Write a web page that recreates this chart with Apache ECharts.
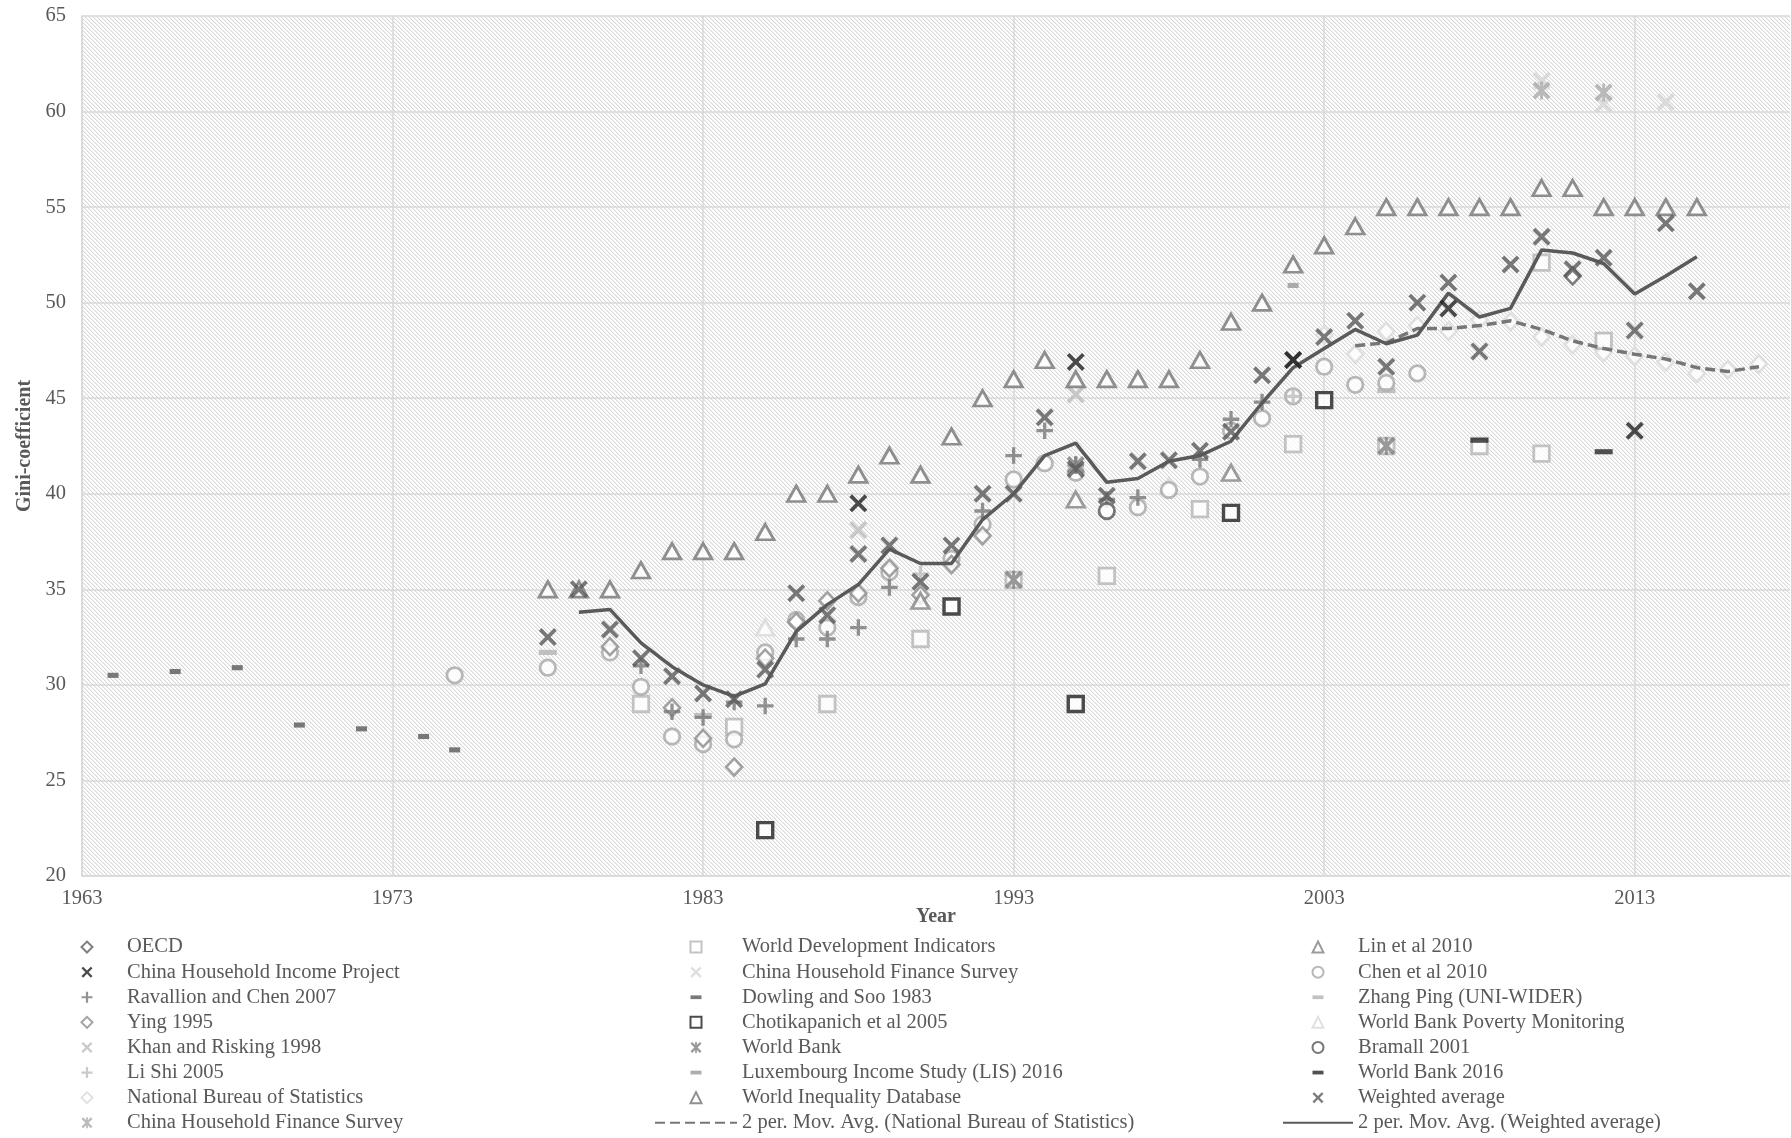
<!DOCTYPE html>
<html>
<head>
<meta charset="utf-8">
<title>Gini-coefficient of China</title>
<script src="https://cdn.jsdelivr.net/npm/echarts@6/dist/echarts.min.js"></script>
<style>
  html, body { margin: 0; padding: 0; background: #fff; }
  #chart { width: 1791px; height: 1138px; }
</style>
</head>
<body>
<div id="chart"></div>
<script>
// ---- data: [year, Gini] pairs per source ----
const oecd = [[2011, 51.4]];
const chip = [[1988, 39.5], [1995, 46.9], [2002, 47.0], [2007, 49.7], [2013, 43.3]];
const ravallionChen = [[1981, 31.0], [1982, 28.6], [1983, 28.3], [1984, 29.1], [1985, 28.9], [1986, 32.4], [1987, 32.4],
  [1988, 33.0], [1989, 35.1], [1992, 39.1], [1993, 42.0], [1994, 43.3], [1995, 41.5], [1996, 39.7], [1997, 39.8],
  [1999, 41.8], [2000, 43.9], [2001, 44.8]];
const ying = [[1980, 32.0], [1982, 28.8], [1983, 27.2], [1984, 25.7], [1985, 31.4], [1986, 33.3], [1987, 34.4],
  [1988, 34.8], [1989, 36.1], [1990, 34.7], [1991, 36.3], [1992, 37.8]];
const khanRisking = [[1988, 38.1], [1995, 45.2]];
const liShi = [[1990, 35.8], [2002, 45.1]];
const nbs = [[2003, 48.3], [2004, 47.3], [2005, 48.5], [2006, 48.8], [2007, 48.5], [2008, 49.1], [2009, 49.0],
  [2010, 48.2], [2011, 47.8], [2012, 47.4], [2013, 47.2], [2014, 46.9], [2015, 46.3], [2016, 46.5], [2017, 46.8]];
const chfsA = [[2010, 61.1], [2012, 61.0]];
const wdi = [[1981, 29.0], [1984, 27.8], [1987, 29.0], [1990, 32.4], [1993, 35.5], [1996, 35.7], [1999, 39.2],
  [2002, 42.6], [2005, 42.5], [2008, 42.5], [2010, 42.1], [2010, 52.1], [2012, 48.0]];
const chfsB = [[2010, 61.6], [2012, 60.4], [2014, 60.5]];
const dowlingSoo = [[1964, 30.5], [1966, 30.7], [1968, 30.9], [1970, 27.9], [1972, 27.7], [1974, 27.3], [1975, 26.6]];
const chotikapanich = [[1985, 22.4], [1991, 34.1], [1995, 29.0], [2000, 39.0], [2003, 44.9]];
const worldBank = [[1993, 35.5], [1995, 41.5], [2005, 42.5]];
const lis = [[2002, 50.9]];
const wid = [[1978, 35], [1979, 35], [1980, 35], [1981, 36], [1982, 37], [1983, 37], [1984, 37], [1985, 38],
  [1986, 40], [1987, 40], [1988, 41], [1989, 42], [1990, 41], [1991, 43], [1992, 45], [1993, 46], [1994, 47],
  [1995, 46], [1996, 46], [1997, 46], [1998, 46], [1999, 47], [2000, 49], [2001, 50], [2002, 52], [2003, 53],
  [2004, 54], [2005, 55], [2006, 55], [2007, 55], [2008, 55], [2009, 55], [2010, 56], [2011, 56], [2012, 55],
  [2013, 55], [2014, 55], [2015, 55]];
const nbsMovAvg = [[2004, 47.75], [2005, 47.9], [2006, 48.65], [2007, 48.65], [2008, 48.8], [2009, 49.05],
  [2010, 48.6], [2011, 48.0], [2012, 47.6], [2013, 47.3], [2014, 47.05], [2015, 46.6], [2016, 46.4], [2017, 46.65]];
const linEtAl = [[1990, 34.4], [1995, 39.7], [2000, 41.1]];
const chenEtAl = [[1975, 30.5], [1978, 30.9], [1980, 31.7], [1981, 29.9], [1982, 27.3], [1983, 26.9], [1984, 27.15],
  [1985, 31.7], [1986, 33.4], [1987, 33.0], [1988, 34.6], [1989, 35.9], [1991, 36.6], [1992, 38.4], [1993, 40.75],
  [1994, 41.6], [1995, 41.1], [1997, 39.3], [1998, 40.2], [1999, 40.9], [2000, 43.3], [2001, 43.95], [2002, 45.1],
  [2003, 46.65], [2004, 45.7], [2005, 45.8], [2006, 46.3]];
const zhangPing = [[1978, 31.7], [1983, 28.4], [2005, 45.4]];
const wbPoverty = [[1985, 33.0], [1998, 40.4]];
const bramall = [[1996, 39.1]];
const wb2016 = [[2008, 42.8], [2012, 42.2]];
const weighted = [[1978, 32.5], [1979, 35.0], [1980, 32.9], [1981, 31.4], [1982, 30.45], [1983, 29.55],
  [1984, 29.25], [1985, 30.8], [1986, 34.8], [1987, 33.65], [1988, 36.85], [1989, 37.3], [1990, 35.4],
  [1991, 37.3], [1992, 40.0], [1993, 40.0], [1994, 44.0], [1995, 41.3], [1996, 39.9], [1997, 41.7],
  [1998, 41.75], [1999, 42.25], [2000, 43.25], [2001, 46.2], [2002, 47.0], [2003, 48.2], [2004, 49.05],
  [2005, 46.65], [2006, 50.0], [2007, 51.05], [2008, 47.45], [2009, 52.0], [2010, 53.45], [2011, 51.75],
  [2012, 52.35], [2013, 48.55], [2014, 54.15], [2015, 50.6]];
const weightedMovAvg = [[1979, 33.8], [1980, 33.95], [1981, 32.2], [1982, 30.95], [1983, 30.0], [1984, 29.4],
  [1985, 30.05], [1986, 32.8], [1987, 34.2], [1988, 35.25], [1989, 37.1], [1990, 36.35], [1991, 36.35],
  [1992, 38.65], [1993, 40.0], [1994, 42.0], [1995, 42.65], [1996, 40.6], [1997, 40.8], [1998, 41.7],
  [1999, 42.0], [2000, 42.75], [2001, 44.75], [2002, 46.6], [2003, 47.6], [2004, 48.6], [2005, 47.85],
  [2006, 48.3], [2007, 50.5], [2008, 49.25], [2009, 49.7], [2010, 52.75], [2011, 52.6], [2012, 52.05],
  [2013, 50.45], [2014, 51.4], [2015, 52.4]];

// axis settings
const yearMin = 1963, yearMax = 2018, yearStep = 10;
const giniMin = 20, giniMax = 65, giniStep = 5;

// ---- marker shapes, each drawn in a 10x10 box so legend icons stay square ----
const CROSS = 'path://M1.5,0 L5,3.5 L8.5,0 L10,1.5 L6.5,5 L10,8.5 L8.5,10 L5,6.5 L1.5,10 L0,8.5 L3.5,5 L0,1.5 Z';
const PLUS = 'path://M4,0 L6,0 L6,4 L10,4 L10,6 L6,6 L6,10 L4,10 L4,6 L0,6 L0,4 L4,4 Z';
const STAR = 'path://M1.5,0 L5,3.5 L8.5,0 L10,1.5 L6.5,5 L10,8.5 L8.5,10 L5,6.5 L1.5,10 L0,8.5 L3.5,5 L0,1.5 Z ' +
             'M4.2,0 L5.8,0 L5.8,10 L4.2,10 Z';
const DASH = 'path://M0,0 M0,3.3 L10,3.3 L10,6.7 L0,6.7 Z M10,10';
const SQUARE = 'path://M0,0 L10,0 L10,10 L0,10 Z';
const DIAMOND = 'path://M5,0 L10,5 L5,10 L0,5 Z';
const TRIANGLE = 'path://M5,0 L10,10 L0,10 Z';

const FONT = 'Liberation Serif';
const TEXT = '#595959';

// hatched plot background
function hatchPattern() {
  const tile = document.createElement('canvas');
  tile.width = 4; tile.height = 4;
  const c = tile.getContext('2d');
  c.fillStyle = '#ffffff';
  c.fillRect(0, 0, 4, 4);
  for (let i = 0; i < 4; i++) {
    c.fillStyle = '#d8d8d8';
    c.fillRect(i, i, 1, 1);
    c.fillStyle = '#f1f1f1';
    c.fillRect((i + 1) % 4, i, 1, 1);
  }
  return { image: tile, repeat: 'repeat' };
}

function hollow(name, data, symbol, size, stroke, width, z) {
  return {
    type: 'scatter', name, data, symbol, symbolSize: size, z: z || 2,
    itemStyle: { color: '#ffffff', borderColor: stroke, borderWidth: width },
    emphasis: { disabled: true }
  };
}
function solid(name, data, symbol, size, fill, z) {
  return {
    type: 'scatter', name, data, symbol, symbolSize: size, z: z || 2,
    itemStyle: { color: fill, borderWidth: 0 },
    emphasis: { disabled: true }
  };
}
function trend(name, data, color, dash) {
  return {
    type: 'line', name, data, symbol: 'none', z: 4,
    itemStyle: { color: 'rgba(0,0,0,0)' },
    lineStyle: { color, width: 3.5, type: dash || 'solid' },
    emphasis: { disabled: true }
  };
}

const series = [
  hollow('World Bank Poverty Monitoring', wbPoverty, TRIANGLE, [17.5, 15.5], '#d9d9d9', 2.8, 1),
  hollow('National Bureau of Statistics', nbs, DIAMOND, [16, 17], '#d9d9d9', 2.6, 1),
  solid('China Household Finance Survey ', chfsB, CROSS, 18, '#d4d4d4', 1),
  solid('China Household Finance Survey', chfsA, STAR, 18, '#ababab', 2),
  hollow('World Development Indicators', wdi, SQUARE, 15.5, '#b5b5b5', 2.8, 2),
  hollow('Chen et al 2010', chenEtAl, 'circle', 15.5, '#a8a8a8', 2.8, 2),
  solid('Zhang Ping (UNI-WIDER)', zhangPing, DASH, [18, 15], '#b3b3b3', 2),
  solid('Khan and Risking 1998', khanRisking, CROSS, 18, '#bdbdbd', 2),
  solid('Li Shi 2005', liShi, PLUS, 16.5, '#bdbdbd', 2),
  hollow('Ying 1995', ying, DIAMOND, [16, 17], '#8c8c8c', 2.6, 3),
  hollow('OECD', oecd, DIAMOND, [16, 17], '#5f5f5f', 2.6, 3),
  solid('Ravallion and Chen 2007', ravallionChen, PLUS, 16.5, '#787878', 3),
  hollow('World Inequality Database', wid, TRIANGLE, [17.5, 15.5], '#747474', 2.8, 3),
  hollow('Lin et al 2010', linEtAl, TRIANGLE, [17.5, 15.5], '#838383', 2.8, 3),
  solid('World Bank', worldBank, STAR, 18, '#7f7f7f', 3),
  solid('Luxembourg Income Study (LIS) 2016', lis, DASH, [11, 15], '#999999', 3),
  solid('Dowling and Soo 1983', dowlingSoo, DASH, [11, 15], '#595959', 3),
  hollow('Bramall 2001', bramall, 'circle', 15.5, '#555555', 2.8, 3),
  solid('Weighted average', weighted, CROSS, 18, '#595959', 4),
  trend('2 per. Mov. Avg. (National Bureau of Statistics)', nbsMovAvg, '#767676', [10, 5]),
  trend('2 per. Mov. Avg. (Weighted average)', weightedMovAvg, '#5a5a5a'),
  solid('World Bank 2016', wb2016, DASH, [18, 15], '#262626', 5),
  solid('China Household Income Project', chip, CROSS, 18, '#1f1f1f', 5),
  hollow('Chotikapanich et al 2005', chotikapanich, SQUARE, 15, '#1f1f1f', 3.4, 5)
];

const legendCols = [
  ['OECD', 'China Household Income Project', 'Ravallion and Chen 2007', 'Ying 1995', 'Khan and Risking 1998',
   'Li Shi 2005', 'National Bureau of Statistics', 'China Household Finance Survey'],
  ['World Development Indicators', 'China Household Finance Survey ', 'Dowling and Soo 1983',
   'Chotikapanich et al 2005', 'World Bank', 'Luxembourg Income Study (LIS) 2016', 'World Inequality Database',
   '2 per. Mov. Avg. (National Bureau of Statistics)'],
  ['Lin et al 2010', 'Chen et al 2010', 'Zhang Ping (UNI-WIDER)', 'World Bank Poverty Monitoring', 'Bramall 2001',
   'World Bank 2016', 'Weighted average', '2 per. Mov. Avg. (Weighted average)']
];
// the first column holds markers only, so its box starts at the first icon's edge
const legendLeft = [80.5, 654, 1282];
const legendWidth = [70, 82, 70];

const legend = legendCols.map((names, i) => ({
  data: names,
  orient: 'vertical',
  left: legendLeft[i],
  top: 934.5,
  padding: 0,
  itemGap: 0,
  itemWidth: legendWidth[i],
  itemHeight: 11,
  selectedMode: false,
  textStyle: { fontFamily: FONT, fontSize: 20.5, color: TEXT, lineHeight: 25.1 }
}));

const chart = echarts.init(document.getElementById('chart'), null, { renderer: 'canvas' });
chart.setOption({
  animation: false,
  backgroundColor: '#ffffff',
  textStyle: { fontFamily: FONT },
  grid: {
    left: 82, right: 1, top: 16, bottom: 262,
    show: true, borderWidth: 0,
    backgroundColor: hatchPattern()
  },
  legend,
  xAxis: {
    type: 'value', min: yearMin, max: yearMax, interval: yearStep,
    name: 'Year', nameLocation: 'middle', nameGap: 31, nameMoveOverlap: false,
    nameTextStyle: { fontFamily: FONT, fontWeight: 'bold', fontSize: 20, color: TEXT },
    axisLine: { show: true, lineStyle: { color: '#d9d9d9', width: 1.5 } },
    axisTick: { show: false },
    axisLabel: {
      margin: 12, fontFamily: FONT, fontSize: 20.5, color: TEXT, showMaxLabel: false,
      formatter: v => ((v - yearMin) % yearStep === 0 ? String(v) : '')
    },
    splitLine: { show: true, showMaxLine: false, lineStyle: { color: '#d9d9d9', width: 1.5 } }
  },
  yAxis: {
    type: 'value', min: giniMin, max: giniMax, interval: giniStep,
    name: 'Gini-coefficient', nameLocation: 'middle', nameGap: 47, nameMoveOverlap: false,
    nameTextStyle: { fontFamily: FONT, fontWeight: 'bold', fontSize: 20, color: TEXT },
    axisLine: { show: true, lineStyle: { color: '#d9d9d9', width: 1.5 } },
    axisTick: { show: false },
    axisLabel: { margin: 16, fontFamily: FONT, fontSize: 20.5, color: TEXT },
    splitLine: { show: true, lineStyle: { color: '#d9d9d9', width: 1.5 } }
  },
  series
});
</script>
</body>
</html>
